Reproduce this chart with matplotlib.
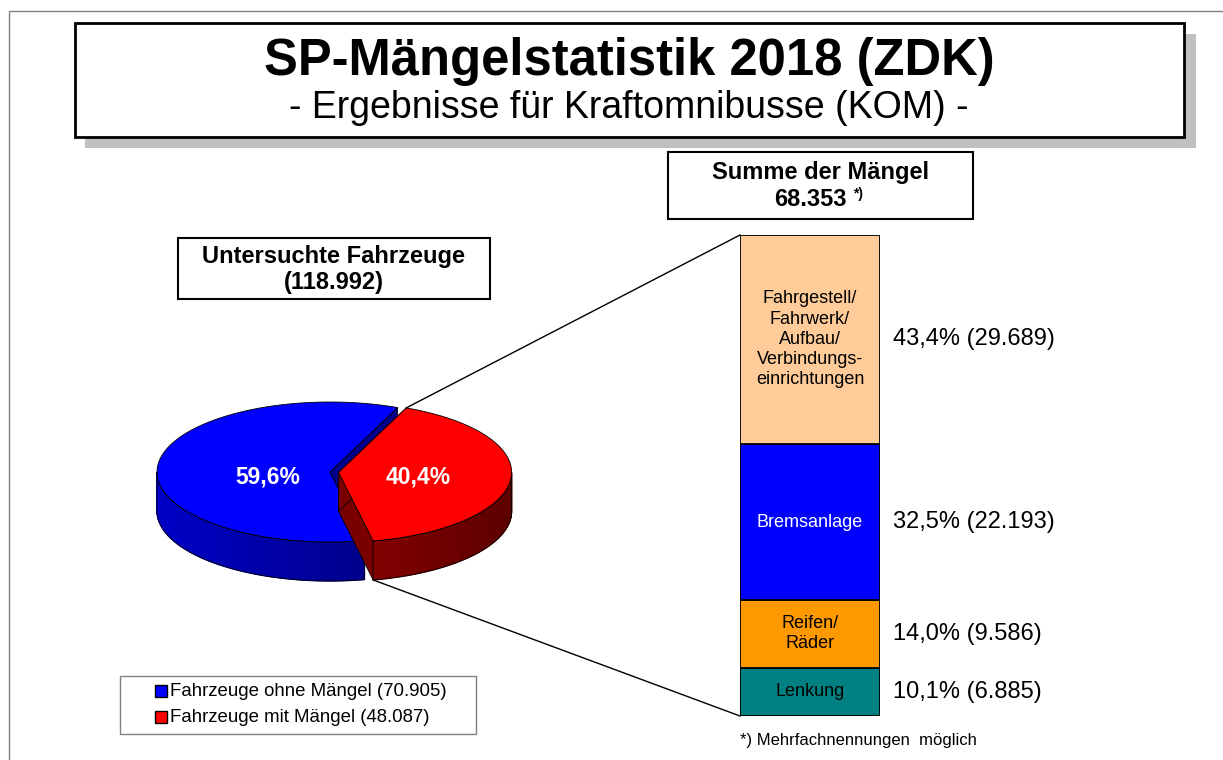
import numpy as np
import matplotlib.pyplot as plt
from matplotlib.patches import Rectangle, Polygon

plt.rcParams['font.family'] = ['Liberation Sans', 'DejaVu Sans']

# Daten Kreisdiagramm (untersuchte Fahrzeuge)
pie_labels = ["Fahrzeuge ohne Mängel", "Fahrzeuge mit Mängel"]
pie_values = [70905, 48087]
pie_colors = ["#0000FF", "#FF0000"]
pie_side_rgb = [(0, 0, 200), (185, 0, 0)]
pie_cut_colors = ["#00008C", "#7A0000"]

# Daten Balken (Summe der Mängel), von unten nach oben
bar_labels = ["Lenkung", "Reifen/\nRäder", "Bremsanlage",
              "Fahrgestell/\nFahrwerk/\nAufbau/\nVerbindungs-\neinrichtungen"]
bar_values = [6885, 9586, 22193, 29689]
bar_colors = ["#008080", "#FF9900", "#0000FF", "#FFCC99"]
bar_text_colors = ["black", "black", "white", "black"]


def de_int(n):
    return f"{n:,}".replace(",", ".")


def de_pct(p):
    return f"{p:.1f}%".replace(".", ",")


W, H = 1223, 760
fig = plt.figure(figsize=(W / 100, H / 100), dpi=100)
ax = fig.add_axes([0, 0, 1, 1])
ax.set_xlim(0, W)
ax.set_ylim(H, 0)
ax.axis("off")

# Rahmenlinien der Folie
ax.plot([9, 9, W], [H, 11, 11], color="#808080", lw=1)

# Titel mit Schatten
ax.add_patch(Rectangle((85, 34), 1111, 114, fc="#C0C0C0", ec="none"))
ax.add_patch(Rectangle((75, 23), 1109, 114, fc="white", ec="black", lw=2))
ax.text(629, 62, "SP-Mängelstatistik 2018 (ZDK)", ha="center", va="center",
        fontsize=36.5, fontweight="bold")
ax.text(629, 108, "- Ergebnisse für Kraftomnibusse (KOM) -", ha="center", va="center",
        fontsize=27)

# Kästen
total_bar = sum(bar_values)
total_pie = sum(pie_values)
ax.add_patch(Rectangle((668, 152), 305, 67, fc="white", ec="black", lw=1.5))
ax.text(820, 172, "Summe der Mängel", ha="center", va="center", fontsize=17, fontweight="bold")
ax.text(810, 199, de_int(total_bar), ha="center", va="center", fontsize=17, fontweight="bold")
ax.text(853, 194, "*)", ha="left", va="center", fontsize=10, fontweight="bold")

ax.add_patch(Rectangle((178, 238), 312, 61, fc="white", ec="black", lw=1.5))
ax.text(334, 256, "Untersuchte Fahrzeuge", ha="center", va="center", fontsize=17, fontweight="bold")
ax.text(334, 283, "(" + de_int(total_pie) + ")", ha="center", va="center", fontsize=17, fontweight="bold")

# 3D-Kreis
cx, cy = 330, 472
a, b, d = 173, 70, 39
start = 67.0
explode = [0.0, 0.05]
label_r = [0.36, 0.46]


def pt(x0, y0, t, dz=0):
    t = np.radians(t)
    return x0 + a * np.cos(t), y0 - b * np.sin(t) + dz


wedges = []
s = start
for v, e in zip(pie_values, explode):
    span = v / total_pie * 360
    mid = np.radians(s + span / 2)
    ox, oy = e * a * np.cos(mid), -e * b * np.sin(mid)
    wedges.append((s, s + span, cx + ox, cy + oy))
    s += span

for i, (t1, t2, x0, y0) in enumerate(wedges):
    # Schnittflaechen
    for t in (t1, t2):
        ex, ey = pt(x0, y0, t)
        cut = [(x0, y0), (ex, ey), (ex, ey + d), (x0, y0 + d)]
        ax.add_patch(Polygon(cut, fc=pie_cut_colors[i], ec="black", lw=0.6))
    # Mantel (nur vorne sichtbar)
    for k in (0, 1):
        lo, hi = max(t1, 180 + 360 * k), min(t2, 360 + 360 * k)
        if hi <= lo:
            continue
        ts = np.linspace(lo, hi, int((hi - lo) / 1.5) + 2)
        top = [pt(x0, y0, t) for t in ts]
        bot = [pt(x0, y0, t, d) for t in ts[::-1]]
        base = tuple(c * 0.75 / 255 for c in pie_side_rgb[i])
        ax.add_patch(Polygon(top + bot, fc=base, ec="none"))
        for ta, tb in zip(ts[:-1], ts[1:]):
            f = 0.75 - 0.25 * np.cos(np.radians((ta + tb) / 2))
            col = tuple(c * f / 255 for c in pie_side_rgb[i])
            p1, p2 = pt(x0, y0, ta), pt(x0, y0, tb)
            ax.add_patch(Polygon([p1, p2, (p2[0], p2[1] + d), (p1[0], p1[1] + d)],
                                 fc=col, ec=col, lw=0.9))
        ax.add_patch(Polygon(top + bot, fill=False, ec="black", lw=0.6))
    # Deckflaeche
    ts = np.linspace(t1, t2, 200)
    face = [(x0, y0)] + [pt(x0, y0, t) for t in ts]
    ax.add_patch(Polygon(face, fc=pie_colors[i], ec="black", lw=0.6))
    mid = np.radians((t1 + t2) / 2)
    ax.text(x0 + label_r[i] * a * np.cos(mid), cy + 5, de_pct(pie_values[i] / total_pie * 100),
            ha="center", va="center", color="white", fontsize=16.5, fontweight="bold")

# Balken
bx0, by0, bx1, by1 = 740, 235, 880, 716
t1, t2, x0, y0 = wedges[-1]
p_top = pt(x0, y0, t2)
p_bot = pt(x0, y0, t1, d)
ax.plot([p_top[0], bx0], [p_top[1], by0], color="black", lw=1)
ax.plot([p_bot[0], bx0], [p_bot[1], by1], color="black", lw=1)

bx = fig.add_axes([bx0 / W, 1 - by1 / H, (bx1 - bx0) / W, (by1 - by0) / H])
bottoms = np.concatenate([[0], np.cumsum(bar_values)[:-1]])
bx.bar(0, bar_values, bottom=bottoms, width=1, color=bar_colors, edgecolor="black", lw=1.3)
bx.set_xlim(-0.5, 0.5)
bx.set_ylim(0, total_bar)
bx.axis("off")
for lab, v, b0, tc in zip(bar_labels, bar_values, bottoms, bar_text_colors):
    bx.text(0, b0 + v / 2, lab, ha="center", va="center", fontsize=13, color=tc,
            linespacing=1.25)
    bx.text(0.59, b0 + v / 2, de_pct(v / total_bar * 100) + " (" + de_int(v) + ")",
            ha="left", va="center", fontsize=17, clip_on=False)

ax.text(740, 741, "*) Mehrfachnennungen  möglich", ha="left", va="center", fontsize=12)

# Legende
ax.add_patch(Rectangle((120, 676), 356, 58, fc="white", ec="#808080", lw=1))
for i, (lab, v) in enumerate(zip(pie_labels, pie_values)):
    yy = 691 + i * 26
    ax.add_patch(Rectangle((155, yy - 6), 12, 12, fc=pie_colors[i], ec="black", lw=1))
    ax.text(170, yy, f"{lab} ({de_int(v)})", ha="left", va="center", fontsize=13.4)

fig.savefig("out.png", dpi=100)
